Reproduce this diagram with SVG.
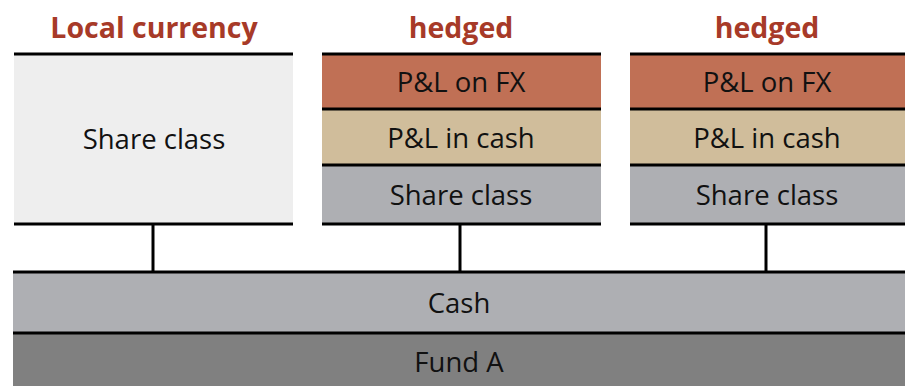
<svg xmlns="http://www.w3.org/2000/svg" width="905" height="386" viewBox="0 0 905 386">
<style>
.h{font-family:"Open Sans","Noto Sans",sans-serif;font-weight:bold;font-size:28.5px;fill:#A73A28;text-anchor:middle}
.t{font-family:"Open Sans","Noto Sans",sans-serif;font-size:27.5px;fill:#111;text-anchor:middle}
.ln{stroke:#000;stroke-width:3;fill:none}
</style>
<rect width="905" height="386" fill="#fff"/>
<g id="fund">
<rect x="13" y="333" width="892" height="53" fill="#808080"/>
<text class="t" x="459" y="372">Fund A</text>
</g>
<g id="cash">
<rect x="13" y="272" width="892" height="61" fill="#AEAFB3"/>
<text class="t" x="459" y="313">Cash</text>
</g>
<g id="local">
<text class="h" x="154" y="38">Local currency</text>
<rect x="14" y="54" width="279" height="170" fill="#EEEEEE"/>
<text class="t" x="154" y="149">Share class</text>
</g>
<g id="hedged1">
<text class="h" x="461" y="38">hedged</text>
<rect x="322" y="54" width="279" height="55" fill="#C07055"/>
<rect x="322" y="109" width="279" height="56" fill="#D0BD9B"/>
<rect x="322" y="165" width="279" height="59" fill="#AEAFB3"/>
<text class="t" x="461" y="92">P&amp;L on FX</text>
<text class="t" x="461" y="148">P&amp;L in cash</text>
<text class="t" x="461" y="205">Share class</text>
<line class="ln" x1="322" y1="109" x2="601" y2="109"/>
<line class="ln" x1="322" y1="165" x2="601" y2="165"/>
</g>
<g id="hedged2">
<text class="h" x="767" y="38">hedged</text>
<rect x="630" y="54" width="275" height="55" fill="#C07055"/>
<rect x="630" y="109" width="275" height="56" fill="#D0BD9B"/>
<rect x="630" y="165" width="275" height="59" fill="#AEAFB3"/>
<text class="t" x="767" y="92">P&amp;L on FX</text>
<text class="t" x="767" y="148">P&amp;L in cash</text>
<text class="t" x="767" y="205">Share class</text>
<line class="ln" x1="630" y1="109" x2="905" y2="109"/>
<line class="ln" x1="630" y1="165" x2="905" y2="165"/>
</g>
<g id="connectors">
<line class="ln" x1="14" y1="54" x2="293" y2="54"/>
<line class="ln" x1="322" y1="54" x2="601" y2="54"/>
<line class="ln" x1="630" y1="54" x2="905" y2="54"/>
<line class="ln" x1="14" y1="224" x2="293" y2="224"/>
<line class="ln" x1="322" y1="224" x2="601" y2="224"/>
<line class="ln" x1="630" y1="224" x2="905" y2="224"/>
<line class="ln" x1="13" y1="272" x2="905" y2="272"/>
<line class="ln" x1="13" y1="333" x2="905" y2="333"/>
<line class="ln" x1="153" y1="224" x2="153" y2="272"/>
<line class="ln" x1="460" y1="224" x2="460" y2="272"/>
<line class="ln" x1="766" y1="224" x2="766" y2="272"/>
</g>
</svg>
